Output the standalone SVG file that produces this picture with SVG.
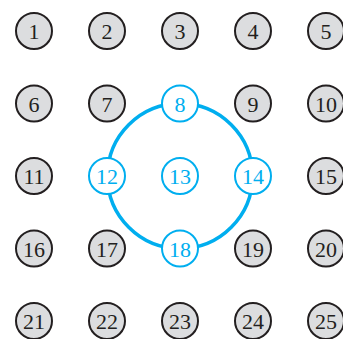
<svg xmlns="http://www.w3.org/2000/svg" width="343" height="339" viewBox="0 0 343 339">
<style>
.g circle{fill:#dcdddf;stroke:#231f20;stroke-width:2}
.b circle{fill:#ffffff;stroke:#00aeef;stroke-width:2}
text{font-family:"Liberation Serif","DejaVu Serif",serif;font-size:22px;text-anchor:middle}
.g text{fill:#231f20}
.b text{fill:#00aeef}
</style>
<rect width="343" height="339" fill="#ffffff"/>
<g id="connectors">
<circle cx="180" cy="176" r="72.5" fill="none" stroke="#00aeef" stroke-width="3.5"/>
</g>
<g id="n1" class="g"><circle cx="34" cy="31" r="18"/><text x="34" y="39">1</text></g>
<g id="n2" class="g"><circle cx="107" cy="31" r="18"/><text x="107" y="39">2</text></g>
<g id="n3" class="g"><circle cx="180" cy="31" r="18"/><text x="180" y="39">3</text></g>
<g id="n4" class="g"><circle cx="253" cy="31" r="18"/><text x="253" y="39">4</text></g>
<g id="n5" class="g"><circle cx="326" cy="31" r="18"/><text x="326" y="39">5</text></g>
<g id="n6" class="g"><circle cx="34" cy="103.5" r="18"/><text x="34" y="111.5">6</text></g>
<g id="n7" class="g"><circle cx="107" cy="103.5" r="18"/><text x="107" y="111.5">7</text></g>
<g id="n8" class="b"><circle cx="180" cy="103.5" r="18"/><text x="180" y="111.5">8</text></g>
<g id="n9" class="g"><circle cx="253" cy="103.5" r="18"/><text x="253" y="111.5">9</text></g>
<g id="n10" class="g"><circle cx="326" cy="103.5" r="18"/><text x="326" y="111.5">10</text></g>
<g id="n11" class="g"><circle cx="34" cy="176" r="18"/><text x="34" y="184">11</text></g>
<g id="n12" class="b"><circle cx="107" cy="176" r="18"/><text x="107" y="184">12</text></g>
<g id="n13" class="b"><circle cx="180" cy="176" r="18"/><text x="180" y="184">13</text></g>
<g id="n14" class="b"><circle cx="253" cy="176" r="18"/><text x="253" y="184">14</text></g>
<g id="n15" class="g"><circle cx="326" cy="176" r="18"/><text x="326" y="184">15</text></g>
<g id="n16" class="g"><circle cx="34" cy="248.5" r="18"/><text x="34" y="256.5">16</text></g>
<g id="n17" class="g"><circle cx="107" cy="248.5" r="18"/><text x="107" y="256.5">17</text></g>
<g id="n18" class="b"><circle cx="180" cy="248.5" r="18"/><text x="180" y="256.5">18</text></g>
<g id="n19" class="g"><circle cx="253" cy="248.5" r="18"/><text x="253" y="256.5">19</text></g>
<g id="n20" class="g"><circle cx="326" cy="248.5" r="18"/><text x="326" y="256.5">20</text></g>
<g id="n21" class="g"><circle cx="34" cy="321" r="18"/><text x="34" y="329">21</text></g>
<g id="n22" class="g"><circle cx="107" cy="321" r="18"/><text x="107" y="329">22</text></g>
<g id="n23" class="g"><circle cx="180" cy="321" r="18"/><text x="180" y="329">23</text></g>
<g id="n24" class="g"><circle cx="253" cy="321" r="18"/><text x="253" y="329">24</text></g>
<g id="n25" class="g"><circle cx="326" cy="321" r="18"/><text x="326" y="329">25</text></g>
</svg>
